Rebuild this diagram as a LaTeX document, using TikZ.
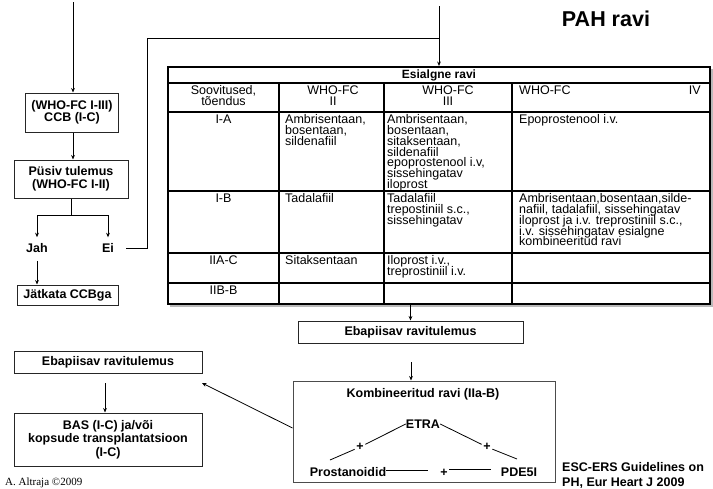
\documentclass[tikz,border=0pt]{standalone}
\usepackage{fontspec}
\setmainfont{Liberation Sans}
\newfontfamily\creditfont{Liberation Serif}
\usetikzlibrary{arrows.meta,calc}
\AtBeginDocument{\lineskiplimit=-100pt\relax}

\begin{document}
\begin{tikzpicture}[x=1pt,y=-1pt,
  lbl/.style={font=\fontsize{12.5}{12.5}\selectfont\bfseries, align=center, inner sep=0pt},
  box/.style={lbl, draw=black!85, line width=1pt},
  cell/.style={font=\fontsize{12.5}{10.8}\selectfont, align=left, inner sep=0pt, anchor=north west},
  ccell/.style={cell, align=center, anchor=north},
  arr/.style={-{Stealth[length=4.5pt,width=3.8pt]}, line width=0.8pt},
  conn/.style={line width=0.8pt},
  grid/.style={line width=1.2pt},
  plus/.style={lbl, inner sep=1.5pt},
]
\useasboundingbox (0,0) rectangle (713,488);

% ---------- title ----------
\node[font=\fontsize{21.5}{21.5}\selectfont\bfseries, inner sep=0pt] (title) at (606,18.5) {PAH ravi};

% ---------- left branch: CCB ----------
\coordinate (topL) at (73,2);
\node[box, minimum width=93, minimum height=39] (ccb) at (72,112.5) {(WHO-FC I-III)\\CCB (I-C)};
\node[box, minimum width=114, minimum height=38] (pusiv) at (71,179) {Püsiv tulemus\\(WHO-FC I-II)};
\node[lbl] (jah) at (37,248) {Jah};
\node[lbl] (ei) at (108,248) {Ei};
\node[box, minimum width=101, minimum height=20] (jatk) at (67.5,295) {Jätkata CCBga};
\coordinate (fork) at (71,215);
\coordinate (bend) at (147,38);
\coordinate (topR) at (439,6);

\draw[arr] (topL) -- (topL |- ccb.north);
\draw[arr] (ccb.south -| topL) -- (pusiv.north -| topL);
\draw[conn] (pusiv.south -| fork) -- (fork);
\draw[arr, shorten >=6pt] (fork) -| (jah.north);
\draw[arr, shorten >=6pt] (fork) -| (ei.north);
\draw[arr, shorten <=8pt] (jah.south) -- (jah.south |- jatk.north);
\draw[conn, shorten <=12pt] (ei.east) -| (bend) -- (bend -| topR);

% ---------- initial therapy table ----------
\node[draw, line width=2pt, minimum width=542, minimum height=237, inner sep=0pt] (tbl) at (439,185.5) {};
\draw[gray!55, line width=1.2pt] (712,69) -- (712,306) -- (170,306);
\draw[arr] (topR) -- (tbl.north);

\draw[grid] (168,83) -- (710,83);
\draw[grid] (168,112) -- (710,112);
\draw[grid] (168,191) -- (710,191);
\draw[grid] (168,253) -- (710,253);
\draw[line width=1.6pt] (168,283) -- (710,283);
\draw[grid] (279,83) -- (279,304);
\draw[grid] (384,83) -- (384,304);
\draw[grid] (512,83) -- (512,304);

\node[font=\fontsize{12}{12}\selectfont\bfseries, inner sep=0pt] (hdr) at (439,75) {Esialgne ravi};

\node[ccell] (h1) at (223.5,85.5) {Soovitused,\\tõendus};
\node[ccell] (h2) at (333,85.5) {WHO-FC\\II};
\node[ccell] (h3) at (448,85.5) {WHO-FC\\III};
\node[cell] (h4) at (519,85.5) {WHO-FC};
\node[cell, anchor=north east] (h4b) at (701,85.5) {IV};

\node[ccell] (a1) at (223.5,114.5) {I-A};
\node[cell] (a2) at (285,114.5) {Ambrisentaan,\\bosentaan,\\sildenafiil};
\node[cell] (a3) at (387,114.5) {Ambrisentaan,\\bosentaan,\\sitaksentaan,\\sildenafiil\\epoprostenool i.v,\\sissehingatav\\iloprost};
\node[cell] (a4) at (519,114.5) {Epoprostenool i.v.};

\node[ccell] (b1) at (223.5,193.5) {I-B};
\node[cell] (b2) at (285,193.5) {Tadalafiil};
\node[cell] (b3) at (387,193.5) {Tadalafiil\\trepostiniil s.c.,\\sissehingatav};
\node[cell] (b4) at (519,193.5) {Ambrisentaan,bosentaan,silde-\\nafiil, tadalafiil, sissehingatav\\iloprost ja i.v. treprostiniil s.c.,\\i.v. sissehingatav esialgne\\kombineeritud ravi};

\node[ccell] (c1) at (223.5,255.5) {IIA-C};
\node[cell] (c2) at (285,255.5) {Sitaksentaan};
\node[cell] (c3) at (387,255.5) {Iloprost i.v.,\\treprostiniil i.v.};

\node[ccell] (d1) at (223.5,286) {IIB-B};

% ---------- inadequate response ----------
\node[box, minimum width=225, minimum height=22] (ebm) at (410.5,332) {Ebapiisav ravitulemus};
\draw[arr] (ebm.north |- tbl.south) -- (ebm.north);

\node[draw=black!70, line width=1pt, minimum width=262, minimum height=101, inner sep=0pt] (komb) at (424,431.5) {};
\node[lbl] (kombt) at (423,394) {Kombineeritud ravi (IIa-B)};
\coordinate (kin) at (411,362);
\draw[arr] (kin) -- (kin |- komb.north);

\node[lbl] (etra) at (423,424) {ETRA};
\node[plus] (plusl) at (360,447) {+};
\node[plus] (plusr) at (487,447) {+};
\node[lbl] (pros) at (348,472) {Prostanoidid};
\node[lbl] (pde) at (519,472) {PDE5I};
\node[plus] (plusb) at (444,473) {+};
\coordinate (pl) at (330,460);
\coordinate (pr) at (517,459);
\draw[conn] (etra.west) -- (plusl);
\draw[conn] (plusl) -- (pl);
\draw[conn] (etra.east) -- (plusr);
\draw[conn] (plusr) -- (pr);
\draw[conn, shorten >=11pt] (pros.east |- 0,470) -- (plusb.west |- 0,470);
\draw[conn, shorten >=10pt] (plusb.east |- 0,469.5) -- (pde.west |- 0,469.5);

% ---------- left: escalation ----------
\node[box, minimum width=188, minimum height=22] (ebl) at (108,362) {Ebapiisav ravitulemus};
\node[box, minimum width=188, minimum height=53, font=\fontsize{12.5}{13.5}\selectfont\bfseries] (bas) at (108,439.5) {BAS (I-C) ja/või\\kopsude transplantatsioon\\(I-C)};
\coordinate (bastop) at (105,383);
\coordinate (diagtip) at (202,383);
\draw[arr] (bastop) -- (bastop |- bas.north);
\draw[arr] ([yshift=3.5pt]komb.west) -- (diagtip);

% ---------- source notes ----------
\node[lbl, align=left, anchor=north west, font=\fontsize{12.5}{15}\selectfont\bfseries] (esc) at (562,462) {ESC-ERS Guidelines on\\PH, Eur Heart J 2009};
\node[font=\creditfont\fontsize{11}{11}\selectfont, anchor=west, inner sep=0pt] (credit) at (5,483) {A. Altraja ©2009};
\end{tikzpicture}
\end{document}
